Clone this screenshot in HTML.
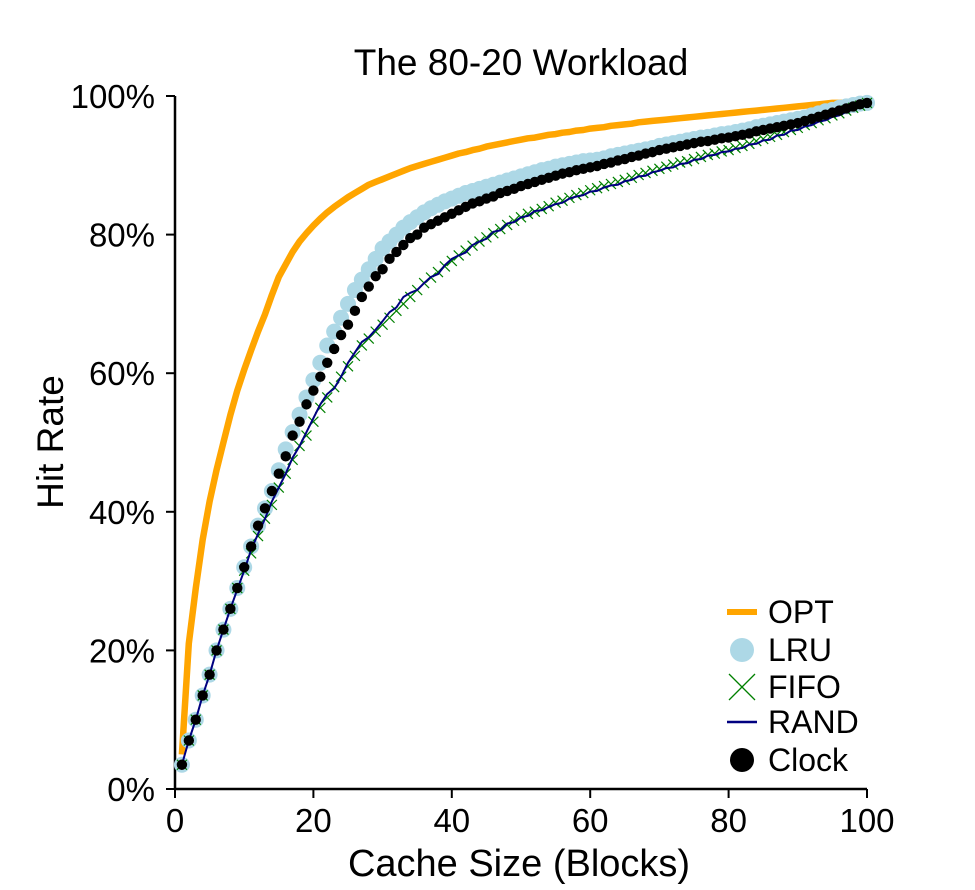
<!DOCTYPE html>
<html><head><meta charset="utf-8"><style>
body{margin:0;background:#fff}
svg text{font-family:"Liberation Sans",sans-serif;fill:#000}
</style></head><body>
<svg id="chart" width="975" height="885" viewBox="0 0 975 885" xmlns="http://www.w3.org/2000/svg">
<text x="521" y="75" font-size="37" text-anchor="middle">The 80-20 Workload</text>
<text x="519" y="876" font-size="38" text-anchor="middle">Cache Size (Blocks)</text>
<text x="0" y="0" font-size="37" text-anchor="middle" transform="translate(63,442) rotate(-90)">Hit Rate</text>
<g id="axes"></g>
<g id="marks"></g>
<g id="legend"></g>
</svg>
<script>
const xTicks=[0,20,40,60,80,100];
const yTicks=[0,20,40,60,80,100];
const yTickLabels=["0%","20%","40%","60%","80%","100%"];
const cacheSizes=Array.from({length:100},(_,i)=>i+1);
const opt=[5,21,29,36,41.5,46,50,54,57.5,60.5,63.3,66,68.5,71.3,73.9,75.7,77.5,79,80.2,81.3,
82.3,83.2,84,84.7,85.4,86,86.6,87.2,87.6,88,88.4,88.8,89.2,89.6,89.9,90.2,90.5,90.8,91.1,91.4,
91.7,91.9,92.2,92.4,92.7,92.9,93.1,93.3,93.5,93.7,93.9,94,94.2,94.4,94.5,94.7,94.8,95,95.1,95.3,
95.4,95.5,95.7,95.8,95.9,96,96.2,96.3,96.4,96.5,96.6,96.7,96.8,96.9,97,97.1,97.2,97.3,97.4,97.5,
97.6,97.7,97.8,97.9,98,98.1,98.2,98.3,98.4,98.5,98.6,98.7,98.8,98.9,99,99,99,99,99,99];
const lru=[3.5,7,10,13.5,16.5,20,23,26,29,32,35,38,40.5,43,46,49,51.5,54,56.5,59,
61.5,64,66,68,70,72,73.5,75,76.5,78,79,80,81,81.8,82.5,83.2,83.8,84.3,84.8,85.2,
85.6,86,86.3,86.6,86.9,87.2,87.5,87.8,88.1,88.4,88.7,89,89.3,89.5,89.8,90,90.2,90.4,90.6,90.7,
90.8,91,91.3,91.5,91.7,91.9,92.1,92.3,92.5,92.8,93,93.2,93.4,93.6,93.8,94,94.1,94.3,94.5,94.6,
94.8,95,95.2,95.5,95.7,95.9,96.1,96.3,96.5,96.7,96.9,97.2,97.5,97.8,98,98.3,98.5,98.7,98.9,99];
const fifo=[3.5,7,10,13.5,16.5,20,23,26,29,31.5,34,36.5,39,41,43.5,45.5,47.5,49.5,51,53,
55,56.5,58,59.5,61,62.5,64,65,66,67,68,69,70,71,72,73,73.8,74.6,75.4,76.2,
77,77.7,78.4,79,79.6,80.2,80.8,81.4,82,82.5,83,83.3,83.7,84.1,84.6,84.9,85.3,85.7,86,86.4,
86.7,87,87.3,87.6,87.9,88.2,88.6,88.9,89.2,89.5,89.8,90.1,90.4,90.6,90.9,91.2,91.5,91.7,92,92.2,
92.5,92.8,93.1,93.5,93.8,94.1,94.4,94.8,95.1,95.4,95.8,96.1,96.5,96.8,97.2,97.5,97.9,98.3,98.6,99];
const rand=[3.5,7,10,13.5,16.5,20,23,26,28.8,31.5,34.5,36.8,39,41.5,43.5,45.5,47.8,49.5,51.5,53.5,
55.5,57,57.8,59.5,61.5,63,64.5,65.2,66.3,67.5,68.8,69.5,71,71.6,72,73,73.9,74.3,75.6,76.5,
77,77.4,78.5,79,79.4,80.4,80.6,81.6,81.8,82.5,82.7,83.4,83.5,84,84.4,84.6,85.2,85.5,85.7,86.2,
86.3,86.8,87.1,87.2,87.7,87.9,88.4,88.5,89,89.2,89.6,89.7,90.2,90.3,90.8,90.9,91.4,91.5,91.9,92,
92.4,92.5,93,93.1,93.6,93.7,94.3,94.4,95,95.1,95.6,95.8,96.3,96.5,97,97.2,97.7,98.1,98.5,99];
const clock=[3.5,7,10,13.5,16.5,20,23,26,29,32,35,38,40.5,43,45.5,48,51,53,55.5,57.5,
59.5,61.5,63.5,65.5,67,69,71,72.5,74,75,76.5,77.5,78.5,79.5,80,81,81.5,82,82.5,83,
83.5,84,84.5,84.8,85.2,85.5,86,86.3,86.6,87,87.3,87.6,87.9,88.2,88.5,88.8,89,89.3,89.5,89.7,
89.9,90.2,90.4,90.7,90.9,91.2,91.4,91.7,91.9,92.2,92.4,92.6,92.8,93,93.2,93.4,93.5,93.7,93.9,94,
94.2,94.4,94.6,94.9,95.1,95.3,95.5,95.7,95.9,96.1,96.4,96.7,97,97.3,97.6,97.9,98.2,98.5,98.8,99];
const legendLabels=["OPT","LRU","FIFO","RAND","Clock"];

const NS="http://www.w3.org/2000/svg";
const X0=175,X1=867,Y0=789,Y1=96;
const xs=v=>X0+(v/100)*(X1-X0);
const ys=v=>Y0-(v/100)*(Y0-Y1);
function mk(tag,attrs,parent){const e=document.createElementNS(NS,tag);for(const k in attrs)e.setAttribute(k,attrs[k]);parent.appendChild(e);return e;}
const axes=document.getElementById('axes'),marks=document.getElementById('marks'),leg=document.getElementById('legend');

let a=mk('line',{x1:X0,y1:Y1,x2:X0,y2:Y0+1,stroke:'#000','stroke-width':2.5},axes);


a=mk('line',{x1:X0-1,y1:Y0,x2:X1,y2:Y0,stroke:'#000','stroke-width':2.5},axes);


xTicks.forEach(t=>{
  const l=mk('line',{x1:xs(t),y1:Y0,x2:xs(t),y2:Y0+9,stroke:'#000','stroke-width':2},axes);
  
  
  const tx=mk('text',{x:xs(t),y:Y0+43,'font-size':33,'text-anchor':'middle'},axes);
  tx.textContent=t;
  
  
});
yTicks.forEach((t,i)=>{
  const l=mk('line',{x1:X0-9,y1:ys(t),x2:X0,y2:ys(t),stroke:'#000','stroke-width':2},axes);
  
  
  const tx=mk('text',{x:X0-20,y:ys(t)+12,'font-size':33,'text-anchor':'end'},axes);
  tx.textContent=yTickLabels[i];
  
  
});
const pts=arr=>arr.map((v,i)=>xs(cacheSizes[i]).toFixed(1)+','+ys(v).toFixed(1)).join(' ');
let p=mk('polyline',{points:pts(opt),fill:'none',stroke:'#ffa500','stroke-width':6.5,'stroke-linejoin':'round'},marks);


lru.forEach((v,i)=>{
  const c=mk('circle',{cx:xs(cacheSizes[i]),cy:ys(v),r:8,fill:'#add8e6'},marks);
  
  
});
fifo.forEach((v,i)=>{
  const x=xs(cacheSizes[i]),y=ys(v),s=5;
  const g=mk('path',{d:`M${x-s},${y-s}L${x+s},${y+s}M${x-s},${y+s}L${x+s},${y-s}`,stroke:'#008000','stroke-width':1.2,fill:'none'},marks);
  
  
});
p=mk('polyline',{points:pts(rand),fill:'none',stroke:'#000080','stroke-width':2,'stroke-linejoin':'round'},marks);


clock.forEach((v,i)=>{
  const c=mk('circle',{cx:xs(cacheSizes[i]),cy:ys(v),r:5.2,fill:'#000'},marks);
  
  
});
const LY=[612,650,687,722,760],LX=742;
legendLabels.forEach((lab,i)=>{
  const y=LY[i];let m;
  if(i===0)m=mk('line',{x1:LX-15,y1:y,x2:LX+15,y2:y,stroke:'#ffa500','stroke-width':6},leg);
  if(i===1)m=mk('circle',{cx:LX,cy:y,r:12,fill:'#add8e6'},leg);
  if(i===2)m=mk('path',{d:`M${LX-13},${y-13}L${LX+13},${y+13}M${LX-13},${y+13}L${LX+13},${y-13}`,stroke:'#008000','stroke-width':1.3},leg);
  if(i===3)m=mk('line',{x1:LX-15,y1:y,x2:LX+15,y2:y,stroke:'#000080','stroke-width':2.5},leg);
  if(i===4)m=mk('circle',{cx:LX,cy:y,r:12,fill:'#000'},leg);
  
  
  const t=mk('text',{x:LX+26,y:y+11,'font-size':32},leg);
  t.textContent=lab;
  
  
});
</script>
</body></html>
